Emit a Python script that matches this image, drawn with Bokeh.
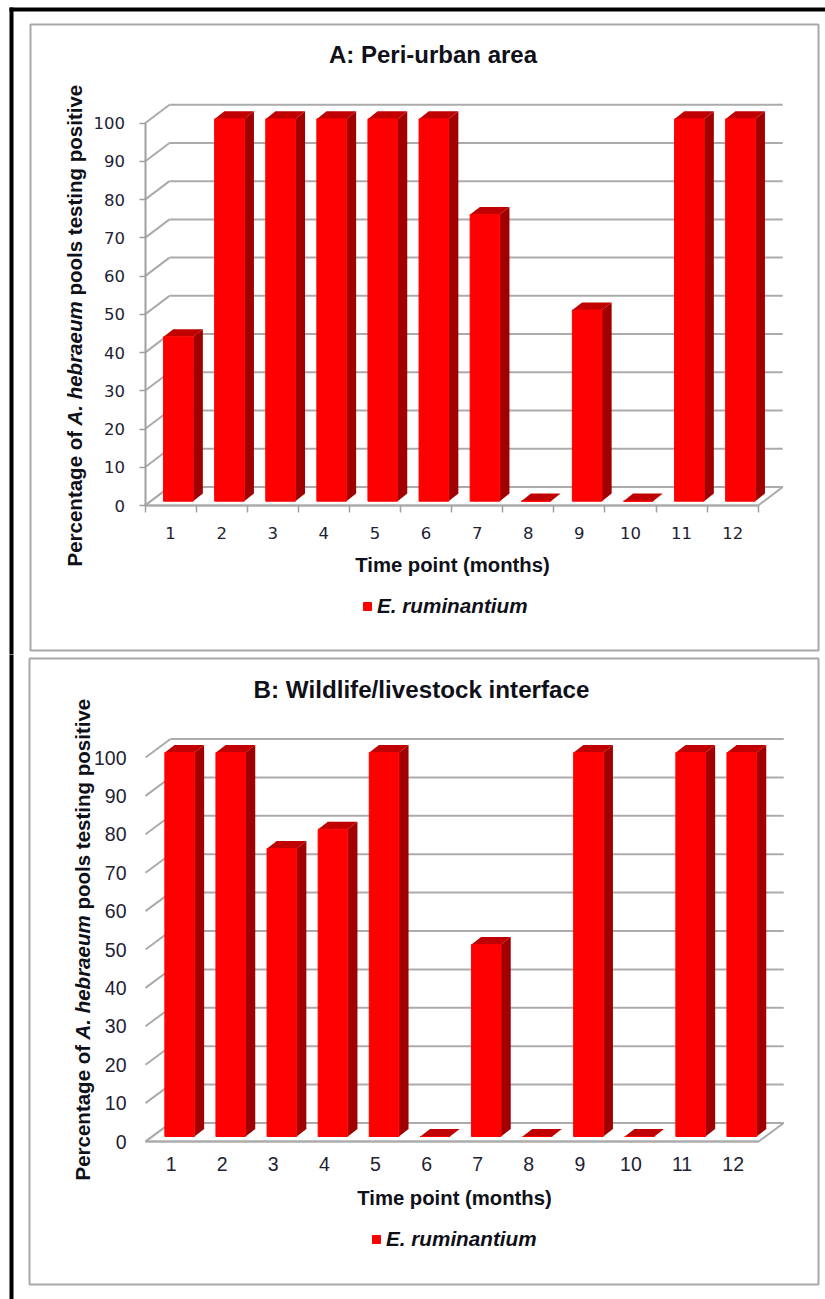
from bokeh.core.properties import value
from bokeh.embed import file_html
from bokeh.layouts import column
from bokeh.models import BoxAnnotation, FixedTicker, Legend, LegendItem, LinearAxis, Range1d
from bokeh.plotting import figure
from bokeh.resources import INLINE

# Share of A. hebraeum pools testing positive for E. ruminantium, per month
months = list(range(1, 13))
peri_urban = [43, 100, 100, 100, 100, 100, 75, 0, 50, 0, 100, 100]
wildlife_interface = [100, 100, 75, 80, 100, 0, 50, 0, 100, 0, 100, 100]
percent_ticks = list(range(0, 101, 10))
month_edges = [m - 0.5 for m in months] + [12.5]

GRID = "#ABABAB"
BOX = "#A8A8A8"
RED = "#FF0000"
TOP = "#C00000"
SIDE = "#A00000"
INK = "#1E2233"
PAGE_W = 825
SANS = "Liberation Sans"


def panel(values, title, top, bottom, x0, y0, xs, ys, shift, lift, style):
    """One pseudo-3D column chart; page pixels are mapped onto data units."""
    h = bottom - top
    p = figure(
        width=PAGE_W, height=h, output_backend="svg", toolbar_location=None,
        x_axis_type=None, y_axis_type=None, min_border=0,
        x_range=Range1d(0.5 - x0 / xs, 0.5 + (PAGE_W - x0) / xs),
        y_range=Range1d((y0 - bottom) / ys, (y0 - top) / ys),
    )
    p.outline_line_color = None
    p.grid.visible = False
    px = lambda x: 0.5 + (x - x0) / xs
    py = lambda y: (y0 - y) / ys

    # page rule and panel box
    p.add_layout(BoxAnnotation(left=px(9), right=px(13), top=py(max(top - 4, 7)),
                               bottom=py(bottom + 4), fill_color="black", fill_alpha=1,
                               line_color=None))
    if style["rule_top"]:
        p.quad(left=[px(9)], right=[px(PAGE_W)], top=[py(7)], bottom=[py(11)],
               fill_color="black", line_color=None)
    bx0, by0, bx1, by1 = style["box"]
    p.quad(left=[px(bx0)], right=[px(bx1)], top=[py(by0)], bottom=[py(by1)],
           fill_color=None, line_color=BOX, line_width=2)

    # floor and back wall
    dx = style["depth"][0] / xs
    dy = style["depth"][1] / ys
    left, right = month_edges[0], month_edges[-1]
    p.patch([left, right, right + dx, left + dx], [0, 0, dy, dy],
            fill_color="white", line_color=GRID, line_width=2)
    back = [t + dy for t in percent_ticks]
    p.segment([left + dx] * 11, back, [right + dx] * 11, back,
              line_color=GRID, line_width=2)
    p.segment([left] * 11, percent_ticks, [left + dx] * 11, back,
              line_color=GRID, line_width=2)

    # columns: side, top and front faces
    half = 29.6 / xs / 2
    bar_dx = 9.7 / xs
    bar_dy = 7.6 / ys
    x_off = shift / xs
    y_off = lift / ys
    l = [m + x_off - half for m in months]
    r = [m + x_off + half for m in months]
    b = [y_off] * 12
    t = [v + y_off for v in values]
    p.patches([[c, c + bar_dx, c + bar_dx, c] for c in r],
              [[u, u + bar_dy, s + bar_dy, s] for u, s in zip(t, b)],
              fill_color=SIDE, line_color=None)
    p.patches([[a, c, c + bar_dx, a + bar_dx] for a, c in zip(l, r)],
              [[u, u, u + bar_dy, u + bar_dy] for u in t],
              fill_color=TOP, line_color=None)
    front = p.patches([[a, c, c, a] for a, c in zip(l, r)],
                      [[s, s, u, u] for s, u in zip(b, t)],
                      fill_color=RED, line_color=RED, line_width=1)

    # axes on the front edge of the floor
    tick_font = style["tick_font"]
    ya = LinearAxis(fixed_location=0.5, bounds=(0, 100),
                    ticker=FixedTicker(ticks=percent_ticks))
    ya.major_label_text_font = tick_font
    ya.major_label_text_font_size = style["tick_size"]
    ya.major_label_text_color = INK
    ya.minor_tick_line_color = None
    ya.major_tick_in = 0
    ya.major_tick_out = style["ytick_out"]
    ya.major_label_standoff = style["ylabel_standoff"]
    ya.axis_line_color = style["axis_color"]
    ya.major_tick_line_color = style["axis_color"]
    ya.axis_line_width = 2
    ya.major_tick_line_width = 1.5
    p.add_layout(ya, "left")

    xa = LinearAxis(fixed_location=0, bounds=(0.5, 12.5),
                    ticker=FixedTicker(ticks=months, minor_ticks=month_edges))
    xa.major_label_text_font = tick_font
    xa.major_label_text_font_size = style["tick_size"]
    xa.major_label_text_color = INK
    xa.major_tick_line_color = None
    xa.major_tick_in = 0
    xa.major_tick_out = 0
    xa.major_label_standoff = style["xlabel_standoff"]
    xa.minor_tick_in = 0
    xa.minor_tick_out = style["xtick_out"]
    xa.minor_tick_line_color = style["axis_color"]
    xa.minor_tick_line_width = 1.5
    xa.axis_line_color = GRID
    xa.axis_line_width = 2
    p.add_layout(xa, "below")

    # chart title and x-axis title
    tsize, tx, ty = style["title"]
    p.text(x=[px(tx)], y=[py(ty)], text=[title], text_font=value(SANS),
           text_font_size=tsize, text_font_style="bold", text_color="#101018",
           text_align="center", text_baseline="middle")
    xsize, xx, xy = style["xtitle"]
    p.text(x=[px(xx)], y=[py(xy)], text=["Time point (months)"], text_font=value(SANS),
           text_font_size=xsize, text_font_style="bold", text_color="#101018",
           text_align="center", text_baseline="middle")

    # y-axis title, set in three runs because the species name is italic
    base_x = style["ytitle_x"]
    for text, y, font_style in zip(
        ["Percentage of", "A. hebraeum", "pools testing positive"],
        style["ytitle_y"], ["bold", "bold italic", "bold"],
    ):
        p.text(x=[px(base_x)], y=[py(y)], text=[text], angle=90, angle_units="deg",
               text_font=value(SANS), text_font_size="20.5px",
               text_font_style=font_style, text_color="#101018",
               text_align="left", text_baseline="middle")

    # legend
    lsize, lx, ly = style["legend"]
    legend = Legend(
        items=[LegendItem(label=value("E. ruminantium"), renderers=[front])],
        location=(lx, ly), orientation="horizontal", padding=0, margin=0, spacing=0,
        background_fill_alpha=0, border_line_color=None,
        glyph_width=10, glyph_height=10, label_standoff=5,
        label_text_font=SANS, label_text_font_size=lsize,
        label_text_font_style="bold italic", label_text_color="#101018",
    )
    p.add_layout(legend)
    return p


style_a = dict(
    rule_top=True, box=(30, 24, 818, 650), depth=(24.5, 18.5),
    tick_font="DejaVu Sans", tick_size="16.5px", ytick_out=6, ylabel_standoff=14,
    xlabel_standoff=14, xtick_out=7, axis_color="#A0A0A0",
    title=("24px", 432.5, 54),
    xtitle=("20.3px", 452, 564),
    ytitle_x=74, ytitle_y=(566, 425, 295),
    legend=("20.7px", 362, 36),
)
style_b = dict(
    rule_top=False, box=(29, 658, 818, 1284), depth=(25, 18.5),
    tick_font=SANS, tick_size="19.5px", ytick_out=0, ylabel_standoff=19,
    xlabel_standoff=15, xtick_out=0, axis_color=None,
    title=("24.2px", 421, 689),
    xtitle=("20.3px", 454, 1197),
    ytitle_x=81.5, ytitle_y=(1180, 1039, 909),
    legend=("20.7px", 371, 48),
)

chart_a = panel(peri_urban, "A: Peri-urban area", 0, 654, 144.5, 505, 51.1, 3.823, 7.8, 4.3, style_a)
chart_b = panel(wildlife_interface, "B: Wildlife/livestock interface", 654, 1299, 145, 1141, 51.1, 3.84, 8.6, 5.0, style_b)

page = column(chart_a, chart_b, spacing=0)
open("out.html", "w").write(file_html(page, INLINE))
